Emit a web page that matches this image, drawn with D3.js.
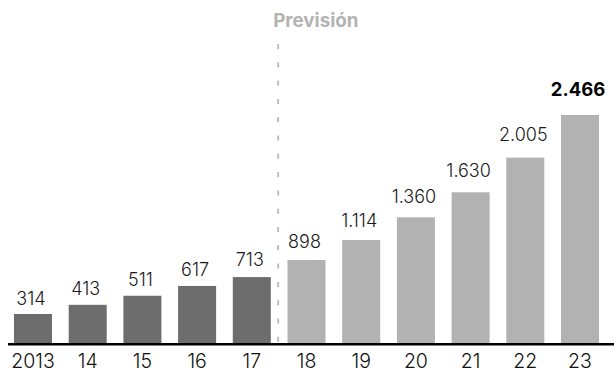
<!DOCTYPE html>
<html>
<head>
<meta charset="utf-8">
<script src="https://cdn.jsdelivr.net/npm/d3@7"></script>
<style>
  html, body { margin: 0; padding: 0; background: #fff; }
  svg { display: block; }
  text { font-family: Inter, "Liberation Sans", sans-serif; }
</style>
</head>
<body>
<svg id="chart" width="614" height="374"></svg>
<script>
// Years shown on the axis (first one in full, the rest abbreviated)
const years = ["2013", "14", "15", "16", "17", "18", "19", "20", "21", "22", "23"];
// Values per year
const values = [314, 413, 511, 617, 713, 898, 1114, 1360, 1630, 2005, 2466];
// Printed value labels (Spanish thousands separator)
const valueLabels = ["314", "413", "511", "617", "713", "898", "1.114", "1.360", "1.630", "2.005", "2.466"];
// First year of the forecast period
const forecastStart = "18";
const forecastTitle = "Previsión";

const W = 614, H = 374;
const baseY = 343;

const svg = d3.select("#chart");

const x = d3.scaleBand()
  .domain(years)
  .range([5.65, 607.35])
  .paddingInner(0.305)
  .paddingOuter(0.1525);

const y = d3.scaleLinear()
  .domain([0, d3.max(values)])
  .range([baseY, 115]);

// Label baselines rise a little faster than the bars
const yLabel = d3.scaleLinear()
  .domain([0, d3.max(values)])
  .range([335.5, 96]);

const data = years.map((yr, i) => ({ yr, v: values[i], label: valueLabels[i], i }));
const fIdx = years.indexOf(forecastStart);

// Bars: real data dark, forecast light
svg.append("g")
  .selectAll("rect")
  .data(data)
  .join("rect")
  .attr("x", d => x(d.yr))
  .attr("y", d => y(d.v))
  .attr("width", x.bandwidth())
  .attr("height", d => baseY - y(d.v))
  .attr("fill", d => d.i < fIdx ? "#6d6d6d" : "#b2b2b2");

// Forecast divider
const divX = x(years[fIdx - 1]) + x.bandwidth() + (x.step() - x.bandwidth()) / 2 - 1;
svg.append("line")
  .attr("x1", divX).attr("x2", divX)
  .attr("y1", 38).attr("y2", baseY)
  .attr("stroke", "#bdbdbd")
  .attr("stroke-width", 2)
  .attr("stroke-dasharray", "5 13.3")
  .attr("stroke-dashoffset", -6);

svg.append("text")
  .attr("x", divX - 5)
  .attr("y", 27)
  .attr("font-size", 18.8)
  .attr("font-weight", 700)
  .attr("fill", "#b3b3b3")
  .text(forecastTitle);

// Value labels
const last = data.length - 1;
svg.append("g")
  .selectAll("text")
  .data(data)
  .join("text")
  .attr("x", d => x(d.yr) + x.bandwidth() / 2 - 2)
  .attr("y", d => yLabel(d.v))
  .attr("text-anchor", "middle")
  .attr("font-size", d => d.i === last ? 18.5 : 18)
  .attr("font-weight", d => d.i === last ? 700 : 300)
  .attr("fill", d => d.i === last ? "#000" : "#1a1a1a")
  .text(d => d.label);

// Axis baseline and year labels
const xAxis = svg.append("g")
  .attr("transform", `translate(0,${baseY})`)
  .call(d3.axisBottom(x).tickSize(0).tickPadding(0));
xAxis.select(".domain").remove();
xAxis.selectAll("text")
  .attr("y", 25)
  .attr("dy", 0)
  .attr("font-size", 19.5)
  .attr("font-weight", 300)
  .attr("font-family", 'Inter, "Liberation Sans", sans-serif')
  .attr("fill", "#111");

svg.append("line")
  .attr("x1", 8).attr("x2", W)
  .attr("y1", baseY + 1.2).attr("y2", baseY + 1.2)
  .attr("stroke", "#000")
  .attr("stroke-width", 2.5);
</script>
</body>
</html>
